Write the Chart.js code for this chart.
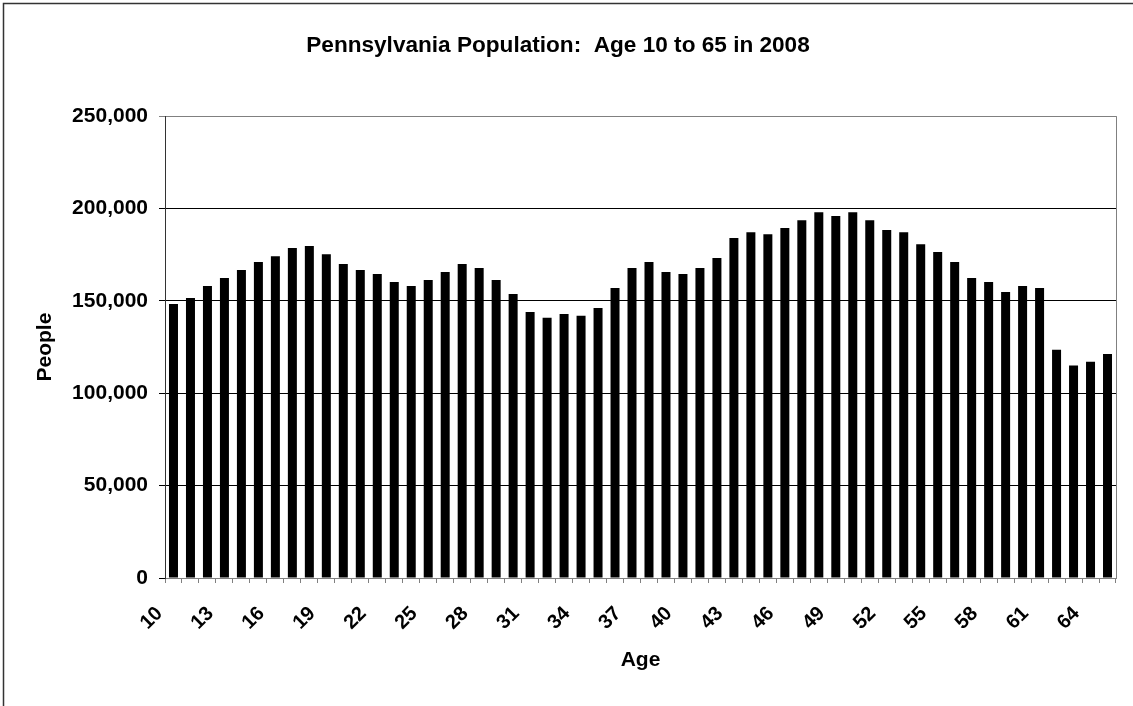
<!DOCTYPE html>
<html>
<head>
<meta charset="utf-8">
<script src="https://cdn.jsdelivr.net/npm/chart.js@4.4.1/dist/chart.umd.min.js"></script>
<style>
  html, body { margin: 0; padding: 0; background: #fff; }
  #wrap { width: 1133px; height: 706px; }
</style>
</head>
<body>
<div id="wrap"><canvas id="popChart" width="1133" height="706"></canvas></div>
<script>
// ages 10..65 (one bar per year)
const ages = [
  "10", "11", "12", "13", "14", "15", "16", "17", "18", "19",
  "20", "21", "22", "23", "24", "25", "26", "27", "28", "29",
  "30", "31", "32", "33", "34", "35", "36", "37", "38", "39",
  "40", "41", "42", "43", "44", "45", "46", "47", "48", "49",
  "50", "51", "52", "53", "54", "55", "56", "57", "58", "59",
  "60", "61", "62", "63", "64", "65",
];

// people per age
const people = [
  148300, 151600, 158000, 162400, 166700, 171000, 174200, 178600, 179700, 175300,
  169900, 166700, 164500, 160200, 158000, 161300, 165600, 169900, 167800, 161300,
  153700, 144000, 140800, 142900, 141900, 146200, 157000, 167800, 171000, 165600,
  164500, 167800, 173200, 184000, 187200, 186100, 189400, 193700, 198000, 195900,
  198000, 193700, 188300, 187200, 180700, 176400, 171000, 162400, 160200, 154800,
  158000, 157000, 123500, 115000, 117000, 121300,
];

// only every third age gets a label on the axis
const tickLabels = ["10", "13", "16", "19", "22", "25", "28", "31", "34", "37",
  "40", "43", "46", "49", "52", "55", "58", "61", "64"];

const yTicks = [0, 50000, 100000, 150000, 200000, 250000];

const FONT = "'Liberation Sans', Arial, sans-serif";

// outer frame + right edge of the plot
const frames = {
  id: "frames",
  afterDraw(chart) {
    const c = chart.ctx;
    const a = chart.chartArea;
    c.save();
    c.strokeStyle = "#808080";
    c.lineWidth = 1;
    c.beginPath();
    c.moveTo(Math.round(a.right) + 0.5, a.top);
    c.lineTo(Math.round(a.right) + 0.5, a.bottom);
    c.stroke();
    c.strokeStyle = "#333";
    c.lineWidth = 1.5;
    c.beginPath();
    c.moveTo(3.5, 706);
    c.lineTo(3.5, 3.5);
    c.lineTo(1133, 3.5);
    c.stroke();
    c.restore();
  },
};

const ctx = document.getElementById("popChart");

new Chart(ctx, {
  type: "bar",
  data: {
    labels: ages,
    datasets: [
      {
        label: "People",
        data: people,
        backgroundColor: "#000",
        borderWidth: 0,
        barPercentage: 0.53,
        categoryPercentage: 1.0,
      },
    ],
  },
  options: {
    responsive: false,
    animation: false,
    layout: {
      padding: { left: 0, right: 17, top: 0, bottom: 0 },
    },
    plugins: {
      legend: { display: false },
      tooltip: { enabled: false },
      title: {
        display: true,
        text: "Pennsylvania Population:  Age 10 to 65 in 2008",
        color: "#000",
        font: { family: FONT, size: 22.6, weight: "bold" },
        padding: { top: 32, bottom: 57 },
      },
    },
    scales: {
      x: {
        afterFit(scale) {
          scale.height = 128;
          // keep rotated labels from shrinking the plot
          scale.paddingLeft = 0;
          scale.paddingRight = 0;
        },
        grid: {
          display: true,
          drawOnChartArea: false,
          color: "#808080",
          tickLength: 5,
        },
        border: { color: "#808080", width: 1 },
        ticks: {
          autoSkip: false,
          minRotation: 45,
          maxRotation: 45,
          padding: 19,
          labelOffset: -14,
          color: "#000",
          font: { family: FONT, size: 20, weight: "bold" },
          callback: function (value) {
            const lab = this.getLabelForValue(value);
            return tickLabels.includes(lab) ? lab : "";
          },
        },
        title: {
          display: true,
          text: "Age",
          color: "#000",
          font: { family: FONT, size: 21, weight: "bold" },
          padding: { top: 0, bottom: 33 },
        },
      },
      y: {
        min: 0,
        max: 250000,
        afterFit(scale) {
          scale.width = 165;
        },
        afterBuildTicks(scale) {
          scale.ticks = yTicks.map((v) => ({ value: v }));
        },
        grid: {
          color: (c) => (c.tick && c.tick.value === 250000 ? "#808080" : "#000"),
          tickLength: 6,
        },
        border: { color: "#333", width: 1 },
        ticks: {
          padding: 11,
          color: "#000",
          font: { family: FONT, size: 21, weight: "bold" },
          callback: (v) => v.toLocaleString("en-US"),
        },
        title: {
          display: true,
          text: "People",
          color: "#000",
          font: { family: FONT, size: 21, weight: "bold" },
          padding: { top: 33, bottom: 0 },
        },
      },
    },
  },
  plugins: [frames],
});
</script>
</body>
</html>
